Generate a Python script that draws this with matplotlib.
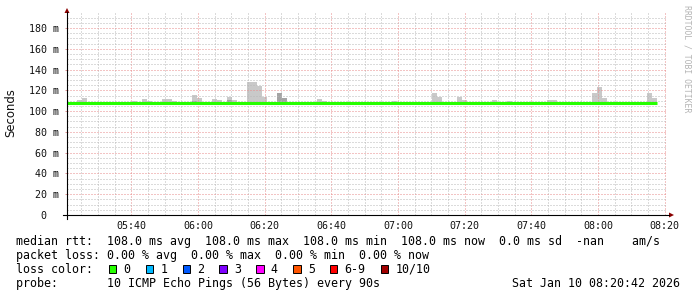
import numpy as np
import matplotlib.pyplot as plt
from matplotlib.lines import Line2D
from matplotlib.patches import Rectangle, Polygon
from matplotlib.ticker import FixedLocator, MultipleLocator

# time axis: minutes since midnight, one step = 90 s
start_min = 5 * 60 + 20 + 42 / 60
step_min = 1.5
n_steps = 118
median_rtt = 108.0

# smoke (top of the ping spread for each step, ms)
smoke_steps = [2, 3, 13, 15, 16, 19, 20, 21, 25, 26, 29, 30, 32, 33, 36, 37, 38, 39,
               42, 43, 50, 51, 65, 73, 74, 78, 79, 85, 88, 96, 97, 105, 106, 107, 116, 117]
smoke_tops = [110.7, 112.6, 109.7, 111.6, 109.7, 111.6, 111.6, 109.7, 115.2, 112.6,
              111.6, 110.7, 113.6, 110.7, 128.0, 128.0, 124.0, 113.6, 117.4, 112.6,
              111.6, 109.7, 109.7, 117.4, 113.6, 113.6, 110.7, 110.7, 109.7, 110.7,
              110.7, 117.4, 123.0, 112.6, 117.4, 112.6]
dark_steps = [25, 32, 42, 43]
dark_tops = [110.0, 110.5, 117.4, 112.6]

x_ticks = [340, 360, 380, 400, 420, 440, 460, 480, 500]
y_ticks = [0, 20, 40, 60, 80, 100, 120, 140, 160, 180]

median_line = "median rtt:  108.0 ms avg  108.0 ms max  108.0 ms min  108.0 ms now  0.0 ms sd  -nan    am/s"
loss_line = "packet loss: 0.00 % avg  0.00 % max  0.00 % min  0.00 % now"
probe_line = "probe:       10 ICMP Echo Pings (56 Bytes) every 90s"
stamp = "Sat Jan 10 08:20:42 2026"
loss_labels = ['0', '1', '2', '3', '4', '5', '6-9', '10/10']
loss_colors = ['#26ff00', '#00b8ff', '#0059ff', '#7e00ff', '#ff00ff', '#ff5500', '#ff0000', '#a10000']

W, H = 697, 297
def fx(x):
    return x / W
def fy(y):
    return 1 - y / H

mono = 'DejaVu Sans Mono'
fig = plt.figure(figsize=(W / 100, H / 100), dpi=100)
ax = fig.add_axes([fx(67), fy(215), 600 / W, 202 / H])

# smoke
sx = start_min + np.array(smoke_steps) * step_min
ax.bar(sx, np.array(smoke_tops) - median_rtt, bottom=median_rtt, width=step_min,
       align='edge', color='#c9c9c9', linewidth=0, zorder=1)
dx = start_min + np.array(dark_steps) * step_min
ax.bar(dx, np.array(dark_tops) - median_rtt, bottom=median_rtt, width=step_min,
       align='edge', color='#a4a4a4', linewidth=0, zorder=1.1)

# median
mx = start_min + np.arange(n_steps + 1) * step_min
ax.plot(mx, np.full(len(mx), median_rtt), color=loss_colors[0], lw=2.2,
        solid_capstyle='butt', zorder=3)

ax.set_xlim(start_min, start_min + 180)
ax.set_ylim(0, 194.4)
for s in ax.spines.values():
    s.set_visible(False)

ax.xaxis.set_major_locator(FixedLocator(x_ticks))
ax.xaxis.set_minor_locator(MultipleLocator(5))
ax.set_xticklabels(["%02d:%02d" % (m // 60, m % 60) for m in x_ticks])
ax.yaxis.set_major_locator(FixedLocator(y_ticks))
ax.yaxis.set_minor_locator(MultipleLocator(5))
ax.set_yticklabels(["0  " if v == 0 else "%d m" % v for v in y_ticks])

ax.tick_params(axis='x', which='both', length=0, pad=4.3, labelsize=7.2, labelcolor='#111')
ax.tick_params(axis='y', which='major', length=1.5, width=0.7, color='#e09090',
               pad=4, labelsize=7.2, labelcolor='#111')
ax.tick_params(axis='y', which='minor', length=0)
for lab in ax.get_xticklabels() + ax.get_yticklabels():
    lab.set_family(mono)

ax.set_axisbelow(False)
ax.grid(True, which='minor', color='#b8b8b8', lw=0.72, linestyle=(0, (1, 2)))
ax.grid(True, which='major', color='#e88a8a', lw=0.72, linestyle=(0, (1, 2)))

# axes with arrows
axis_col = '#8b0000'
fig.add_artist(Line2D([fx(67), fx(67)], [fy(219), fy(12)], color='black', lw=0.8))
fig.add_artist(Line2D([fx(63), fx(669)], [fy(215), fy(215)], color='black', lw=0.8))
fig.add_artist(Polygon([(fx(64.5), fy(13)), (fx(69.5), fy(13)), (fx(67), fy(8))],
                       closed=True, color=axis_col, lw=0))
fig.add_artist(Polygon([(fx(669), fy(212.5)), (fx(669), fy(217.5)), (fx(674), fy(215))],
                       closed=True, color=axis_col, lw=0))

fig.text(fx(10.5), fy(113), 'Seconds', rotation=90, ha='center', va='center',
         fontsize=8.4, family='DejaVu Sans', color='#111')
fig.text(fx(687), fy(59), 'RRDTOOL / TOBI OETIKER', rotation=270, ha='center',
         va='center', fontsize=5.9, family=mono, color='#b4b4b4')

# legend
fs = 8.4
cw = 7.0
fig.text(fx(16), fy(245), median_line, fontsize=fs, family=mono, va='baseline')
fig.text(fx(16), fy(259), loss_line, fontsize=fs, family=mono, va='baseline')
fig.text(fx(16), fy(273), 'loss color:', fontsize=fs, family=mono, va='baseline')
fig.text(fx(16), fy(287), probe_line, fontsize=fs, family=mono, va='baseline')
fig.text(fx(680.5), fy(287), stamp, fontsize=fs, family=mono, va='baseline', ha='right')

sq = 108.7
for lab, col in zip(loss_labels, loss_colors):
    fig.add_artist(Rectangle((fx(sq), fy(273.3)), 7.3 / W, 8 / H, facecolor=col,
                             edgecolor='black', lw=0.7))
    lx = sq + 14.6
    fig.text(fx(lx), fy(273), lab, fontsize=fs, family=mono, va='baseline')
    sq = lx + cw * len(lab) + 15.3

fig.savefig('out.png', dpi=100)
